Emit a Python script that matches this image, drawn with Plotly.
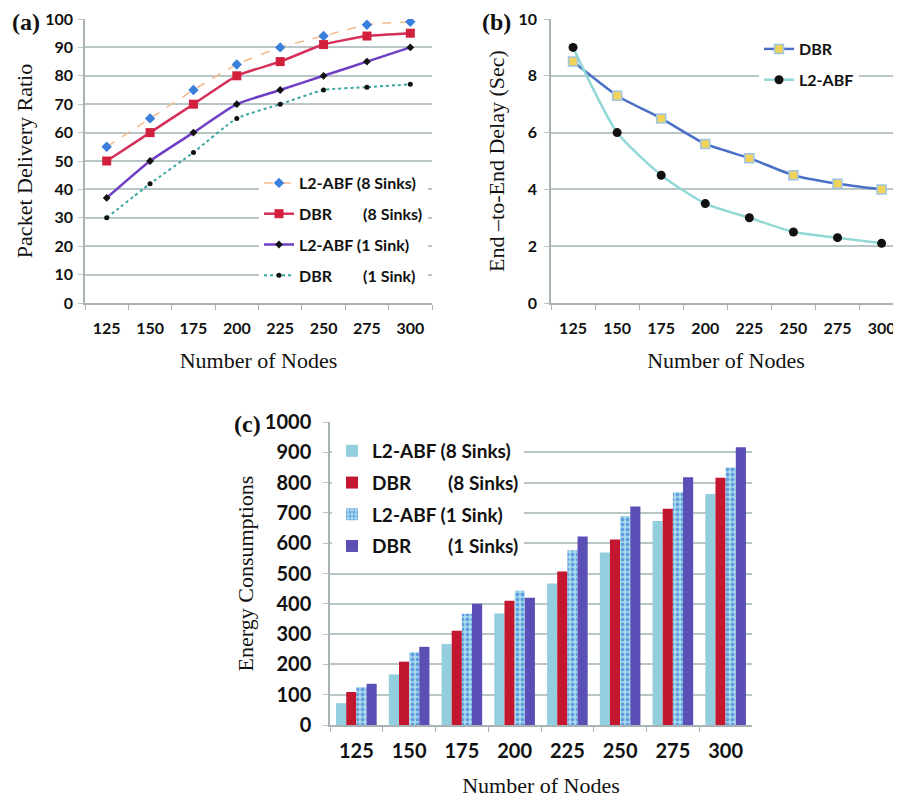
import plotly.graph_objects as go

W, H = 901, 798
OFF = 8  # page body margin in the browser

nodes = ["125", "150", "175", "200", "225", "250", "275", "300"]

# (a) Packet Delivery Ratio
pdr_l2abf_8 = [55, 65, 75, 84, 90, 94, 98, 99]
pdr_dbr_8 = [50, 60, 70, 80, 85, 91, 94, 95]
pdr_l2abf_1 = [37, 50, 60, 70, 75, 80, 85, 90]
pdr_dbr_1 = [30, 42, 53, 65, 70, 75, 76, 77]

# (b) End-to-End Delay
delay_dbr = [8.5, 7.3, 6.5, 5.6, 5.1, 4.5, 4.2, 4.0]
delay_l2abf = [9.0, 6.0, 4.5, 3.5, 3.0, 2.5, 2.3, 2.1]

# (c) Energy Consumptions
en_l2abf_8 = [72, 167, 267, 368, 467, 569, 673, 762]
en_dbr_8 = [109, 209, 311, 410, 507, 612, 714, 816]
en_l2abf_1 = [125, 240, 367, 443, 577, 690, 768, 850]
en_dbr_1 = [136, 258, 400, 420, 622, 721, 818, 917]

NB = "\u00a0"
names_a = ["L2-ABF (8 Sinks)", "DBR" + NB * 8 + "(8 Sinks)",
           "L2-ABF (1 Sink)", "DBR" + NB * 8 + "(1 Sink)"]
names_b = ["DBR", "L2-ABF"]
names_c = ["L2-ABF (8 Sinks)", "DBR" + NB * 8 + "(8 Sinks)",
           "L2-ABF (1 Sink)", "DBR" + NB * 8 + "(1 Sinks)"]

SANS = "Lato, 'Open Sans', sans-serif"
SERIF = "'Liberation Serif', 'DejaVu Serif', serif"
GRID = "#b9c6c8"
AXL = "#a9b3b5"

def px_x(p):
    return (p - OFF) / W

def px_y(p):
    return 1 - (p - OFF) / H

fig = go.Figure()

# ---- (a)
styles_a = [
    dict(line=dict(color="#f4b98a", width=1.5, dash="dash", shape="spline", smoothing=0.5),
         marker=dict(symbol="diamond", color="#3a7fdc", size=8)),
    dict(line=dict(color="#d4305a", width=2.5, shape="spline", smoothing=0.5),
         marker=dict(symbol="square", color="#d21f3c", size=9)),
    dict(line=dict(color="#6e3fc4", width=2.5, shape="spline", smoothing=0.5),
         marker=dict(symbol="diamond", color="#111111", size=6)),
    dict(line=dict(color="#3aa6a0", width=2, dash="dot", shape="spline", smoothing=0.5),
         marker=dict(symbol="circle", color="#111111", size=5)),
]
for name, ys, st in zip(names_a, [pdr_l2abf_8, pdr_dbr_8, pdr_l2abf_1, pdr_dbr_1], styles_a):
    fig.add_trace(go.Scatter(x=nodes, y=ys, name=name, mode="lines+markers",
                             xaxis="x", yaxis="y", legend="legend",
                             legendgroup=name, **st))

# ---- (b)
fig.add_trace(go.Scatter(x=nodes, y=delay_dbr, name=names_b[0], mode="lines+markers",
                         xaxis="x2", yaxis="y2", legend="legend2", legendgroup="bdbr",
                         line=dict(color="#4a6fc6", width=2.5, shape="spline", smoothing=0.5),
                         marker=dict(symbol="square", color="#f2d35a", size=9,
                                     line=dict(color="#9cc6e6", width=1.5))))
fig.add_trace(go.Scatter(x=nodes, y=delay_l2abf, name=names_b[1], mode="lines+markers",
                         xaxis="x2", yaxis="y2", legend="legend2", legendgroup="bl2",
                         line=dict(color="#92d8d6", width=2.5, shape="spline", smoothing=0.6),
                         marker=dict(symbol="circle", color="#111111", size=9)))

# ---- (c)
bar_colors = ["#93cedf", "#c2172f", "#a8dcec", "#5a4fb4"]
for i, (name, ys) in enumerate(zip(names_c, [en_l2abf_8, en_dbr_8, en_l2abf_1, en_dbr_1])):
    mk = dict(color=bar_colors[i], line=dict(width=0))
    if i == 2:
        mk["pattern"] = dict(shape=".", fgcolor="#1f5fd6", bgcolor="#a8dcec",
                             size=5, solidity=0.45)
    fig.add_trace(go.Bar(x=nodes, y=ys, name=name, xaxis="x3", yaxis="y3",
                         legend="legend3", legendgroup=name, marker=mk))

tickfont_ab = dict(family=SANS, size=16, color="#111", weight="bold")
tickfont_c = dict(family=SANS, size=20, color="#111", weight="bold")
titlefont = dict(family=SERIF, size=22, color="#111")

def xax(domain, rng, tf, standoff, anchor, lblstand=0):
    return dict(domain=domain, type="category", range=rng, showgrid=False,
                showline=True, linecolor=AXL, linewidth=1.5, anchor=anchor,
                ticks="outside", tickson="boundaries", ticklen=5, tickcolor=AXL,
                ticklabelstandoff=lblstand, automargin=False, ticklabeloverflow="allow",
                tickfont=tf, title=dict(text="Number of Nodes", font=titlefont, standoff=standoff),
                fixedrange=True)

def yax(domain, rng, dtick, tf, title, standoff, anchor, lblstand=0):
    return dict(domain=domain, range=rng, dtick=dtick, showgrid=True, gridcolor=GRID,
                gridwidth=1.5, showline=True, linecolor=AXL, linewidth=1.5,
                ticks="outside", ticklen=5, tickcolor=GRID, tickfont=tf,
                ticklabelstandoff=lblstand, ticklabeloverflow="allow",
                zeroline=False, anchor=anchor, automargin=False,
                title=dict(text=title, font=titlefont, standoff=standoff))

dom_ab_y = [px_y(303), px_y(19)]
dom_c_y = [px_y(725), px_y(422)]

legfont_ab = dict(family=SANS, size=16, color="#111", weight="bold")
legfont_c = dict(family=SANS, size=19, color="#111", weight="bold")
labfont = dict(family=SERIF, size=24, color="#111")

fig.update_layout(
    width=W, height=H,
    margin=dict(l=0, r=0, t=0, b=0, autoexpand=False),
    paper_bgcolor="white", plot_bgcolor="white",
    barmode="group", bargap=0.23, bargroupgap=0,
    xaxis=xax([px_x(85), px_x(432)], [-0.5, 7.5], tickfont_ab, 17, "y", 10),
    yaxis=yax(dom_ab_y, [0, 100], 10, tickfont_ab, "Packet Delivery Ratio", 7, "x", 2),
    xaxis2=xax([px_x(551), px_x(901)], [-0.5, 7.44], tickfont_ab, 17, "y2", 10),
    yaxis2=yax(dom_ab_y, [0, 10], 2, tickfont_ab, "End –to-End Delay (Sec)", 8, "x2", 4),
    xaxis3=xax([px_x(330), px_x(752)], [-0.5, 7.5], tickfont_c, 17, "y3", 7),
    yaxis3=yax(dom_c_y, [0, 1000], 100, tickfont_c, "Energy Consumptions", 5, "x3", 8),
    showlegend=True,
    legend=dict(x=px_x(259), y=px_y(166), xanchor="left", yanchor="top",
                bgcolor="white", borderwidth=0, font=legfont_ab,
                traceorder="grouped", tracegroupgap=7, itemwidth=30),
    legend2=dict(x=px_x(759), y=px_y(32), xanchor="left", yanchor="top",
                 bgcolor="white", borderwidth=0, font=legfont_ab,
                 traceorder="grouped", tracegroupgap=7, itemwidth=30),
    legend3=dict(x=px_x(332), y=px_y(432), xanchor="left", yanchor="top",
                 bgcolor="white", borderwidth=0, font=legfont_c,
                 traceorder="grouped", tracegroupgap=4, itemwidth=30),
    annotations=[
        dict(text="<b>(a)</b>", x=px_x(11), y=px_y(8), xref="paper", yref="paper",
             xanchor="left", yanchor="top", showarrow=False, font=labfont, borderpad=0),
        dict(text="<b>(b)</b>", x=px_x(481), y=px_y(8), xref="paper", yref="paper",
             xanchor="left", yanchor="top", showarrow=False, font=labfont, borderpad=0),
        dict(text="<b>(c)</b>", x=px_x(232), y=px_y(424), xref="paper", yref="paper",
             xanchor="left", yanchor="middle", showarrow=False, font=labfont),
    ],
)

fig.write_html("out.html")
